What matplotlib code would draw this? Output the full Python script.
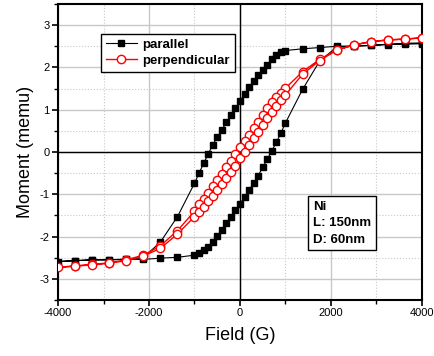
import matplotlib
matplotlib.use("Agg")
import matplotlib.pyplot as plt
from matplotlib.ticker import MultipleLocator

plt.rcParams['font.family'] = ['Liberation Sans', 'DejaVu Sans']
plt.rcParams['axes.unicode_minus'] = False

# parallel loop: descending branch (+4000 -> -4000) then ascending (-4000 -> +4000)
par_field = [4000, 3625, 3250, 2875, 2500, 2125, 1750, 1375, 1000, 900, 800, 700, 600, 500,
             400, 300, 200, 100, 0, -100, -200, -300, -400, -500, -600, -700, -800, -900,
             -1000, -1375, -1750, -2125, -2500, -2875, -3250, -3625, -4000,
             -3625, -3250, -2875, -2500, -2125, -1750, -1375, -1000, -900, -800, -700, -600,
             -500, -400, -300, -200, -100, 0, 100, 200, 300, 400, 500, 600, 700, 800, 900,
             1000, 1375, 1750, 2125, 2500, 2875, 3250, 3625, 4000]
par_moment = [2.56, 2.55, 2.54, 2.52, 2.51, 2.50, 2.47, 2.44, 2.40, 2.37, 2.30, 2.19, 2.06, 1.94,
              1.81, 1.67, 1.53, 1.37, 1.20, 1.04, 0.87, 0.70, 0.52, 0.35, 0.17, -0.05, -0.27, -0.50,
              -0.74, -1.53, -2.13, -2.50, -2.53, -2.55, -2.55, -2.57, -2.59,
              -2.57, -2.55, -2.55, -2.54, -2.54, -2.51, -2.49, -2.44, -2.38, -2.32, -2.24, -2.12,
              -1.99, -1.84, -1.69, -1.54, -1.37, -1.23, -1.06, -0.90, -0.73, -0.56, -0.36, -0.17, 0.03, 0.23, 0.45,
              0.69, 1.48, 2.15, 2.48, 2.50, 2.52, 2.55, 2.57, 2.58]

# perpendicular loop
perp_field = [4000, 3625, 3250, 2875, 2500, 2125, 1750, 1375, 1000, 900, 800, 700, 600, 500,
              400, 300, 200, 100, 0, -100, -200, -300, -400, -500, -600, -700, -800, -900,
              -1000, -1375, -1750, -2125, -2500, -2875, -3250, -3625, -4000,
              -3625, -3250, -2875, -2500, -2125, -1750, -1375, -1000, -900, -800, -700, -600,
              -500, -400, -300, -200, -100, 0, 100, 200, 300, 400, 500, 600, 700, 800, 900,
              1000, 1375, 1750, 2125, 2500, 2875, 3250, 3625, 4000]
perp_moment = [2.70, 2.67, 2.65, 2.61, 2.53, 2.41, 2.19, 1.90, 1.51, 1.40, 1.31, 1.19, 1.03, 0.87,
               0.72, 0.56, 0.40, 0.27, 0.12, -0.05, -0.21, -0.36, -0.52, -0.66, -0.81, -0.96, -1.10, -1.24,
               -1.40, -1.86, -2.22, -2.44, -2.55, -2.62, -2.66, -2.69, -2.73,
               -2.70, -2.67, -2.63, -2.57, -2.46, -2.28, -1.94, -1.53, -1.42, -1.29, -1.17, -1.04,
               -0.90, -0.76, -0.62, -0.47, -0.32, -0.15, 0.01, 0.17, 0.32, 0.48, 0.64, 0.80, 0.95, 1.09, 1.23,
               1.35, 1.84, 2.16, 2.41, 2.53, 2.61, 2.65, 2.67, 2.70]

x_ticks = [-4000, -2000, 0, 2000, 4000]
y_ticks = [-3, -2, -1, 0, 1, 2, 3]
annotation = "Ni\nL: 150nm\nD: 60nm"

fig = plt.figure(figsize=(4.35, 3.56), dpi=100)
ax = fig.add_axes([58/435, 1-300/356, (422-58)/435, (300-4)/356])

ax.set_xlim(-4000, 4000)
ax.set_ylim(-3.5, 3.5)
ax.set_xticks(x_ticks)
ax.set_xticklabels([str(v) for v in x_ticks])
ax.set_yticks(y_ticks)
ax.set_yticklabels([str(v) for v in y_ticks])
ax.xaxis.set_minor_locator(MultipleLocator(1000))
ax.yaxis.set_minor_locator(MultipleLocator(0.5))

ax.grid(True, which='major', color='#c8c8c8', linestyle='-', linewidth=1.0, zorder=0)
ax.grid(True, which='minor', color='#c8c8c8', linestyle=':', linewidth=0.8, zorder=0)
ax.set_axisbelow(True)
ax.axhline(0, color='black', linewidth=1.0, zorder=1)
ax.axvline(0, color='black', linewidth=1.0, zorder=1)

ax.plot(par_field, par_moment, color='black', linewidth=0.8, marker='s', markersize=5,
        markerfacecolor='black', markeredgecolor='black', label='parallel', zorder=3)
ax.plot(perp_field, perp_moment, color='red', linewidth=1.0, marker='o', markersize=6,
        markerfacecolor='white', markeredgecolor='red', markeredgewidth=1.0,
        label='perpendicular', zorder=4)

for s in ax.spines.values():
    s.set_linewidth(1.5)
ax.tick_params(which='major', direction='out', length=4, width=1.2, labelsize=8, pad=2)
ax.tick_params(which='minor', direction='out', length=3, width=1.0)

ax.set_xlabel('Field (G)', fontsize=13, labelpad=6)
ax.set_ylabel('Moment (memu)', fontsize=13, labelpad=4)

leg = ax.legend(loc='upper left', bbox_to_anchor=((101-58)/364, (300-34)/296),
                fancybox=False, frameon=True, edgecolor='black', framealpha=1,
                prop={'weight': 'bold', 'size': 9.5}, handlelength=2.4,
                borderpad=0.35, labelspacing=0.3, handletextpad=0.4, borderaxespad=0)
leg.get_frame().set_linewidth(1.0)

ax.text(1600, -1.15, annotation, fontsize=9.5, fontweight='bold', va='top', ha='left',
        linespacing=1.5,
        bbox=dict(boxstyle='square,pad=0.35', facecolor='white', edgecolor='black', linewidth=1.0),
        zorder=5)

fig.savefig('out.png', dpi=100)
